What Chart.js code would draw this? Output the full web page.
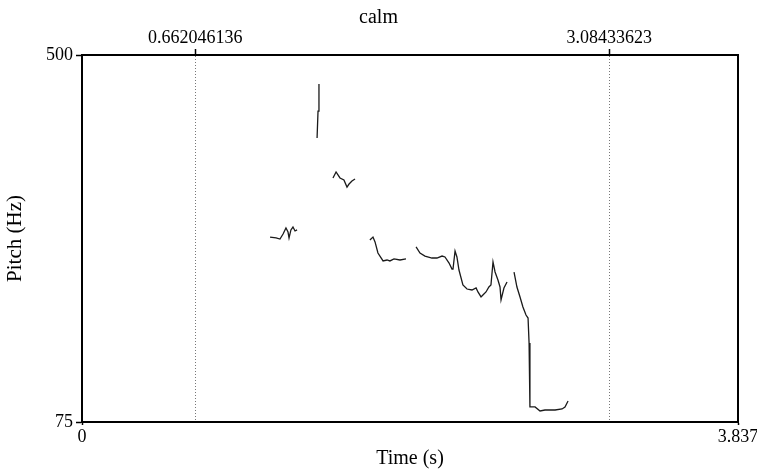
<!DOCTYPE html>
<html>
<head>
<meta charset="utf-8">
<script src="https://cdn.jsdelivr.net/npm/chart.js@4/dist/chart.umd.min.js"></script>
<style>
  html, body { margin: 0; padding: 0; background: #fff; }
  #wrap { width: 757px; height: 469px; }
</style>
</head>
<body>
<div id="wrap"><canvas id="pitchChart"></canvas></div>
<script>
// pitch contour (time in s, pitch in Hz)
const seg1Time = [1.100, 1.135, 1.158, 1.176, 1.193, 1.205, 1.211, 1.222, 1.234, 1.246, 1.258];
const seg1Pitch = [289.2, 288.1, 286.9, 292.7, 299.7, 295.0, 288.1, 297.4, 300.8, 296.2, 297.4];

const seg2Time = [1.375, 1.3805, 1.386];
const seg2Pitch = [403.9, 435.0, 466.4];

const seg3Time = [1.468, 1.486, 1.509, 1.532, 1.550, 1.562, 1.579, 1.597];
const seg3Pitch = [357.6, 364.5, 357.6, 355.3, 347.1, 350.6, 354.1, 356.4];

const seg4Time = [1.684, 1.702, 1.714, 1.731, 1.761, 1.784, 1.801, 1.825, 1.860, 1.895];
const seg4Pitch = [285.8, 289.2, 283.5, 270.7, 261.5, 262.6, 261.5, 263.8, 262.6, 263.8];

const seg5Time = [1.954, 1.977, 2.006, 2.047, 2.076, 2.106, 2.123, 2.147, 2.164, 2.170,
                  2.182, 2.193, 2.205, 2.228, 2.252, 2.281, 2.305, 2.316, 2.334, 2.345,
                  2.363, 2.380, 2.392, 2.404, 2.416, 2.433, 2.445, 2.451, 2.468, 2.486];
const seg5Pitch = [277.7, 270.7, 267.2, 264.9, 264.9, 267.2, 266.1, 259.1, 252.2, 252.2,
                   273.0, 266.1, 251.0, 233.7, 229.0, 227.9, 230.2, 225.6, 219.8, 222.1,
                   225.6, 231.4, 233.7, 260.3, 248.7, 239.4, 231.4, 216.3, 230.2, 237.1];

const seg6Time = [2.527, 2.544, 2.562, 2.579, 2.597, 2.609, 2.615, 2.620, 2.632, 2.650,
                  2.679, 2.708, 2.737, 2.767, 2.808, 2.825, 2.843];
const seg6Pitch = [248.7, 231.3, 219.8, 208.2, 198.9, 195.4, 166.5, 92.4, 92.4, 92.4,
                   87.8, 88.9, 88.9, 88.9, 90.1, 92.4, 99.3];

const segments = [
  [seg1Time, seg1Pitch], [seg2Time, seg2Pitch], [seg3Time, seg3Pitch],
  [seg4Time, seg4Pitch], [seg5Time, seg5Pitch], [seg6Time, seg6Pitch]
];

const timeTicks = [0, 3.837];
const timeTickLabels = ['0', '3.837'];
const markTicks = [0.662046136, 3.08433623];
const markTickLabels = ['0.662046136', '3.08433623'];
const pitchTicks = [75, 500];
const pitchTickLabels = ['75', '500'];

const serif = 'Liberation Serif';
const ink = '#000';

function labelFrom(values, labels) {
  return function(value) {
    let i = values.indexOf(value);
    return i >= 0 ? labels[i] : '';
  };
}

let datasets = segments.map(function(seg) {
  return {
    data: seg[0].map(function(t, i) { return {x: t, y: seg[1][i]}; }),
    showLine: true,
    borderColor: '#1a1a1a',
    borderWidth: 1.3,
    pointRadius: 0,
    tension: 0,
    xAxisID: 'x',
    yAxisID: 'y'
  };
});

let config = {
  type: 'scatter',
  data: { datasets: datasets },
  options: {
    responsive: true,
    maintainAspectRatio: false,
    animation: false,
    events: [],
    layout: { padding: 0 },
    plugins: {
      legend: { display: false },
      tooltip: { enabled: false },
      title: {
        display: true,
        text: 'calm',
        color: ink,
        font: { family: serif, size: 20, weight: 'normal' },
        padding: { top: 6, bottom: 0 }
      }
    },
    scales: {
      x: {
        type: 'linear',
        position: 'bottom',
        min: 0,
        max: 3.837,
        afterBuildTicks: function(s) { s.ticks = timeTicks.map(function(v) { return {value: v}; }); },
        afterFit: function(s) { s.height = 47; s.paddingLeft = 0; s.paddingRight = 0; },
        ticks: {
          autoSkip: false, maxRotation: 0, padding: 1, color: ink,
          font: { family: serif, size: 18 },
          callback: labelFrom(timeTicks, timeTickLabels)
        },
        grid: { drawOnChartArea: false, drawTicks: true, tickLength: 3, tickColor: ink, tickWidth: 1.5 },
        border: { display: true, color: ink, width: 2 },
        title: {
          display: true, text: 'Time (s)', color: ink,
          font: { family: serif, size: 20 }, padding: { top: 0, bottom: -2 }
        }
      },
      x2: {
        type: 'linear',
        position: 'top',
        min: 0,
        max: 3.837,
        afterBuildTicks: function(s) { s.ticks = markTicks.map(function(v) { return {value: v}; }); },
        afterFit: function(s) { s.height = 25; s.paddingLeft = 0; s.paddingRight = 0; },
        ticks: {
          autoSkip: false, maxRotation: 0, padding: 0, color: ink,
          font: { family: serif, size: 18 },
          callback: labelFrom(markTicks, markTickLabels)
        },
        grid: {
          drawOnChartArea: true, drawTicks: true, tickLength: 6,
          color: '#777', lineWidth: 1,
          tickColor: ink, tickWidth: 1.5, tickBorderDash: []
        },
        border: { display: true, color: ink, width: 2, dash: [1, 2] }
      },
      y: {
        type: 'linear',
        position: 'left',
        min: 75,
        max: 500,
        afterBuildTicks: function(s) { s.ticks = pitchTicks.map(function(v) { return {value: v}; }); },
        afterFit: function(s) { s.width = 82; },
        ticks: {
          autoSkip: false, padding: 3, color: ink,
          font: { family: serif, size: 18 },
          callback: labelFrom(pitchTicks, pitchTickLabels)
        },
        grid: { drawOnChartArea: false, drawTicks: true, tickLength: 6, tickColor: ink, tickWidth: 1.5 },
        border: { display: true, color: ink, width: 2 },
        title: {
          display: true, text: 'Pitch (Hz)', color: ink,
          font: { family: serif, size: 21 }, padding: { top: 3, bottom: 0 }
        }
      },
      y2: {
        type: 'linear',
        position: 'right',
        min: 75,
        max: 500,
        afterBuildTicks: function(s) { s.ticks = []; },
        afterFit: function(s) { s.width = 19; },
        ticks: { display: false },
        grid: { drawOnChartArea: false, drawTicks: false },
        border: { display: true, color: ink, width: 2 }
      }
    }
  }
};

let pitchChart = new Chart(document.getElementById('pitchChart'), config);
</script>
</body>
</html>
